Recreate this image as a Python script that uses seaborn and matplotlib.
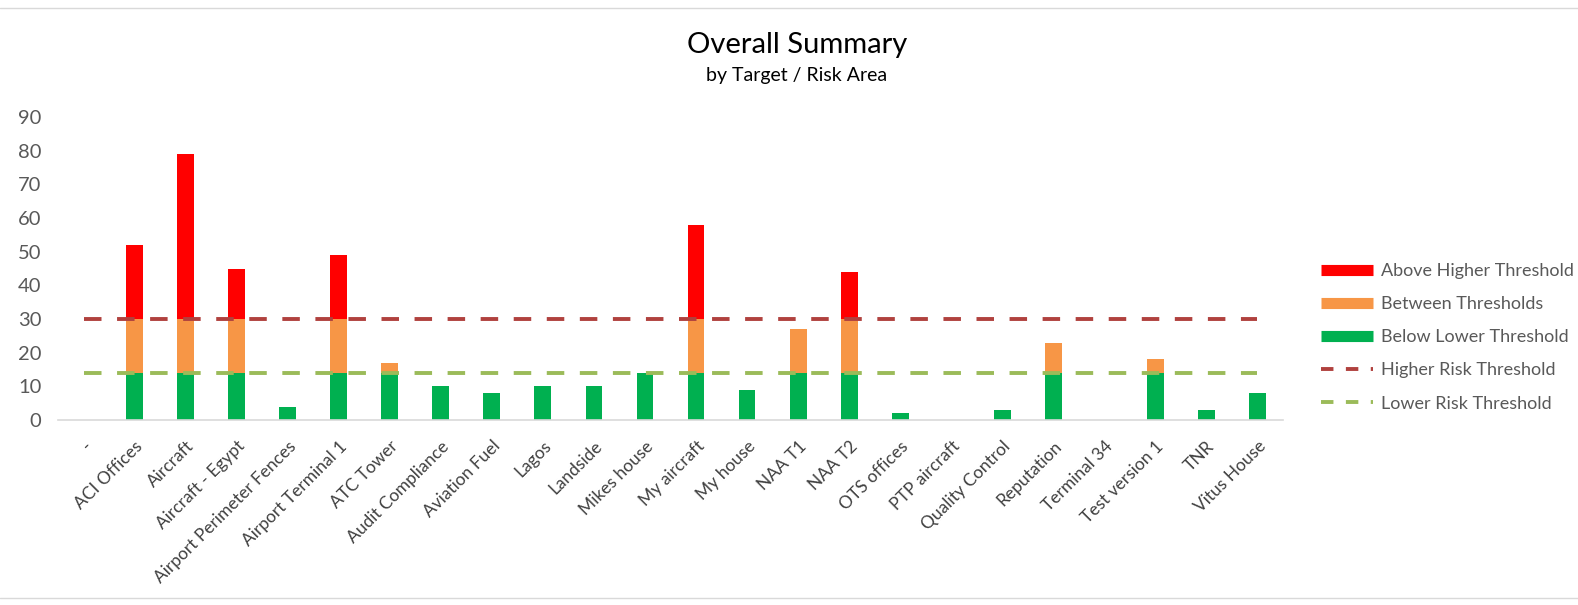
import numpy as np
import pandas as pd
import matplotlib
matplotlib.use("Agg")
import matplotlib.pyplot as plt
import seaborn as sns
from matplotlib.lines import Line2D

categories = ["-", "ACI Offices", "Aircraft", "Aircraft - Egypt", "Airport Perimeter Fences",
              "Airport Terminal 1", "ATC Tower", "Audit Compliance", "Aviation Fuel", "Lagos",
              "Landside", "Mikes house", "My aircraft", "My house", "NAA T1", "NAA T2",
              "OTS offices", "PTP aircraft", "Quality Control", "Reputation", "Terminal 34",
              "Test version 1", "TNR", "Vitus House"]
below_lower = [0, 14, 14, 14, 4, 14, 14, 10, 8, 10, 10, 14, 14, 9, 14, 14, 2, 0, 3, 14, 0, 14, 3, 8]
between = [0, 16, 16, 16, 0, 16, 3, 0, 0, 0, 0, 0, 16, 0, 13, 16, 0, 0, 0, 9, 0, 4, 0, 0]
above_higher = [0, 22, 49, 15, 0, 19, 0, 0, 0, 0, 0, 0, 28, 0, 0, 14, 0, 0, 0, 0, 0, 0, 0, 0]
higher_threshold = 30
lower_threshold = 14
yticks = [0, 10, 20, 30, 40, 50, 60, 70, 80, 90]

title = "Overall Summary"
subtitle = "by Target / Risk Area"
legend_labels = ["Above Higher Threshold", "Between Thresholds", "Below Lower Threshold",
                 "Higher Risk Threshold", "Lower Risk Threshold"]

C_RED = "#FF0000"
C_ORANGE = "#F79646"
C_GREEN = "#00B050"
C_HI = "#B0413E"
C_LO = "#9BBB59"
C_TXT = "#595959"

sns.set_theme(style="white")
plt.rcParams["font.family"] = ["Lato", "DejaVu Sans"]

df = pd.DataFrame({"cat": categories, "below": below_lower, "between": between, "above": above_higher})
bottom2 = np.array(below_lower)
bottom3 = bottom2 + np.array(between)

fig = plt.figure(figsize=(15.78, 6.05), dpi=100)
ax = fig.add_axes([58 / 1578, 1 - 420 / 605, (1283 - 58) / 1578, (420 - 117) / 605])

bw = 0.33
sns.barplot(data=df, x="cat", y="below", order=categories, color=C_GREEN, width=bw,
            saturation=1, ax=ax, linewidth=0)
sns.barplot(data=df, x="cat", y="between", order=categories, color=C_ORANGE, width=bw,
            saturation=1, ax=ax, bottom=bottom2, linewidth=0)
sns.barplot(data=df, x="cat", y="above", order=categories, color=C_RED, width=bw,
            saturation=1, ax=ax, bottom=bottom3, linewidth=0)

xpos = np.arange(len(categories))
ax.plot(xpos, [higher_threshold] * len(categories), color=C_HI, lw=2.8, dashes=(4.5, 4.0))
ax.plot(xpos, [lower_threshold] * len(categories), color=C_LO, lw=2.8, dashes=(4.5, 4.0))

ax.set_xlim(-0.5, len(categories) - 0.5)
ax.set_ylim(0, 90)
ax.set_yticks(yticks)
ax.set_yticklabels([str(v) for v in yticks], color=C_TXT, fontsize=14.5)
ax.set_xticks(xpos)
ax.set_xticklabels(categories, rotation=45, ha="right", rotation_mode="anchor",
                   color="#404040", fontsize=12.5)
ax.tick_params(axis="x", length=0, pad=13)
ax.tick_params(axis="y", length=0, pad=12)
ax.set_xlabel("")
ax.set_ylabel("")
for s in ["top", "right", "left"]:
    ax.spines[s].set_visible(False)
ax.spines["bottom"].set_color("#D9D9D9")
ax.spines["bottom"].set_linewidth(1.2)
ax.grid(False)

fig.text(797 / 1578, 1 - 45 / 605, title, ha="center", va="center", fontsize=21, color="#000000")
fig.text(797 / 1578, 1 - 76 / 605, subtitle, ha="center", va="center", fontsize=14, color="#000000")

handles = [
    Line2D([0], [0], color=C_RED, lw=8, solid_capstyle="butt"),
    Line2D([0], [0], color=C_ORANGE, lw=8, solid_capstyle="butt"),
    Line2D([0], [0], color=C_GREEN, lw=8, solid_capstyle="butt"),
    Line2D([0], [0], color=C_HI, lw=2.8, dashes=(3.2, 3.2)),
    Line2D([0], [0], color=C_LO, lw=2.8, dashes=(3.2, 3.2)),
]
leg = fig.legend(handles, legend_labels, loc="upper left",
                 bbox_to_anchor=(1321 / 1578, 1 - 263 / 605), frameon=False,
                 fontsize=13, handlelength=2.9, handletextpad=0.45, labelspacing=0.95,
                 borderpad=0, borderaxespad=0)
for t in leg.get_texts():
    t.set_color(C_TXT)

fig.add_artist(Line2D([0, 1], [1 - 8 / 605, 1 - 8 / 605], transform=fig.transFigure,
                      color="#D9D9D9", lw=1))
fig.add_artist(Line2D([0, 1], [1 - 598 / 605, 1 - 598 / 605], transform=fig.transFigure,
                      color="#D9D9D9", lw=1))

fig.savefig("out.png", dpi=100, facecolor="white")
